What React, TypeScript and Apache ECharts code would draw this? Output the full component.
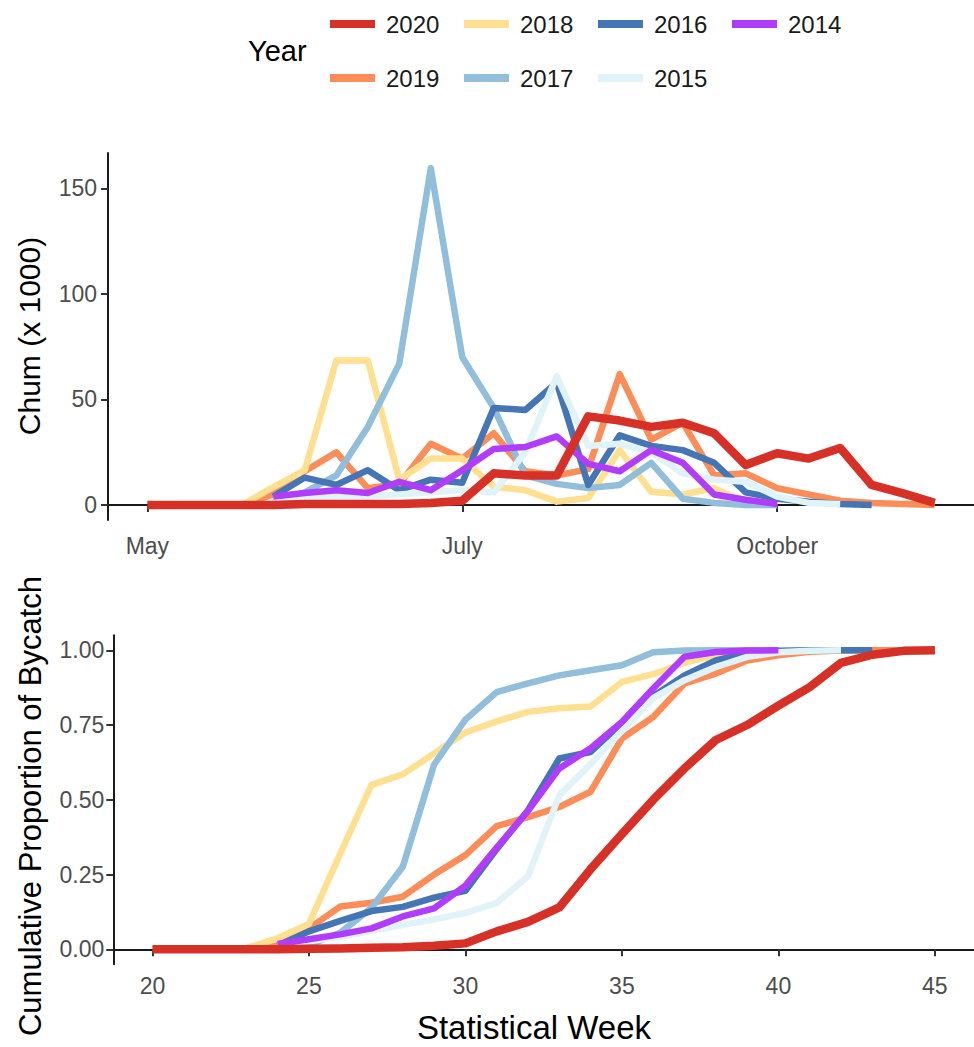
import React, { useEffect, useRef } from "react";
import * as echarts from "echarts";

// ---------- data ----------
const weeks = [20, 21, 22, 23, 24, 25, 26, 27, 28, 29, 30, 31, 32, 33, 34, 35, 36, 37, 38, 39, 40, 41, 42, 43, 44, 45];
const monthTicks = [20, 30, 40];
const monthLabels = ["May", "July", "October"];
const weekTicks = [20, 25, 30, 35, 40, 45];
const chumTicks = [0, 50, 100, 150];
const propTicks = [0, 0.25, 0.5, 0.75, 1];

const legendRow1 = ["2020", "2018", "2016", "2014"];
const legendRow2 = ["2019", "2017", "2015"];
// drawing order (last on top)
const drawOrder = ["2019", "2018", "2017", "2016", "2015", "2014", "2020"];

const yearColors: Record<string, string> = {
  "2020": "#d73027",
  "2019": "#fc8d59",
  "2018": "#fee090",
  "2017": "#91bfdb",
  "2016": "#4575b4",
  "2015": "#e0f3f8",
  "2014": "#b23cfb",
};

// weekly chum bycatch (x 1000), aligned to weeks 20..45
const chum2020 = [0, 0, 0, 0, 0, 0.5, 0.5, 0.5, 0.5, 1, 2, 15, 14, 14, 42, 40, 37, 39, 34, 19, 24.5, 22, 27, 9.5, 5.5, 1];
const chum2019 = [null, null, null, 0, 5, 16, 25, 8, 10, 29, 22, 34, 16, 14, 17, 62, 31, 39, 14, 15, 8, 5, 2, 1, 0.5, 0];
const chum2018 = [null, null, null, 0, 8.5, 16.5, 68.5, 68.5, 12, 22, 22, 8.7, 7, 1.6, 3.3, 26, 6.3, 5, 8, 1, 0, null, null, null, null, null];
const chum2017 = [null, null, null, null, 1, 6, 14, 37, 67, 159.5, 70, 46, 14, 10, 8, 9.5, 20, 3, 1, 0, 0, null, null, null, null, null];
const chum2016 = [null, null, null, null, 4, 13, 9.5, 16.5, 7, 12, 10.5, 46, 45, 58, 9.5, 33, 28, 26, 20, 6, 3, 1.5, 0.5, 0, null, null];
const chum2015 = [null, null, null, null, 1, 3, 4, 4, 5, 6, 7, 6, 25, 61, 28, 29, 25, 15, 12, 11, 4, 1, 0.5, null, null, null];
const chum2014 = [null, null, null, null, 4, 5.7, 7, 5.7, 11, 7, 16.5, 26.5, 27.5, 32.5, 19.5, 16, 26, 20, 5, 2.5, 0.5, null, null, null, null, null];

// cumulative proportion of bycatch, aligned to weeks 20..45
const cum2020 = [0, 0, 0, 0, 0, 0.002, 0.003, 0.005, 0.007, 0.012, 0.02, 0.06, 0.092, 0.14, 0.268, 0.385, 0.5, 0.605, 0.7, 0.75, 0.815, 0.877, 0.958, 0.985, 0.998, 1];
const cum2019 = [null, null, null, 0, 0.013, 0.07, 0.143, 0.156, 0.176, 0.25, 0.315, 0.412, 0.442, 0.476, 0.527, 0.705, 0.777, 0.889, 0.922, 0.966, 0.983, 0.995, 0.999, 1, 1, 1];
const cum2018 = [null, null, null, 0.004, 0.037, 0.085, 0.32, 0.55, 0.585, 0.655, 0.725, 0.762, 0.794, 0.806, 0.812, 0.894, 0.92, 0.958, 0.985, 0.997, 1, null, null, null, null, null];
const cum2017 = [null, null, null, null, 0.003, 0.015, 0.055, 0.139, 0.276, 0.618, 0.768, 0.86, 0.889, 0.916, 0.933, 0.95, 0.993, 0.999, 1, 1, 1, null, null, null, null, null];
const cum2016 = [null, null, null, null, 0.012, 0.06, 0.095, 0.128, 0.142, 0.173, 0.196, 0.335, 0.465, 0.638, 0.66, 0.758, 0.846, 0.916, 0.966, 0.99, 0.998, 1, 1, 1, null, null];
const cum2015 = [null, null, null, null, 0.015, 0.027, 0.042, 0.062, 0.082, 0.1, 0.122, 0.155, 0.245, 0.515, 0.62, 0.73, 0.84, 0.9, 0.944, 0.978, 0.993, 0.998, 1, null, null, null];
const cum2014 = [null, null, null, null, 0.018, 0.034, 0.05, 0.07, 0.11, 0.137, 0.213, 0.34, 0.463, 0.605, 0.672, 0.76, 0.872, 0.978, 0.994, 0.999, 1, null, null, null, null, null];

const chumByYear: Record<string, (number | null)[]> = {
  "2020": chum2020, "2019": chum2019, "2018": chum2018, "2017": chum2017,
  "2016": chum2016, "2015": chum2015, "2014": chum2014,
};
const cumByYear: Record<string, (number | null)[]> = {
  "2020": cum2020, "2019": cum2019, "2018": cum2018, "2017": cum2017,
  "2016": cum2016, "2015": cum2015, "2014": cum2014,
};

// ---------- styling ----------
const FONT = "'Liberation Sans', Arial, Helvetica, sans-serif";
const axisLine = { show: true, lineStyle: { color: "#1a1a1a", width: 2 } };
const axisTick = (vals: number[]) => ({
  show: true,
  length: 7,
  customValues: vals,
  lineStyle: { color: "#333333", width: 2 },
});
const labelBase = { color: "#4d4d4d", fontSize: 23, fontFamily: FONT };

function toPairs(arr: (number | null)[]) {
  const out: [number, number][] = [];
  weeks.forEach((w, i) => {
    const v = arr[i];
    if (v !== null && v !== undefined) out.push([w, v]);
  });
  return out;
}

function buildOption() {
  const series: any[] = [];
  drawOrder.forEach((yr) => {
    const isRed = yr === "2020";
    const ls = { width: isRed ? 8.5 : 6.5, color: yearColors[yr], join: "round", cap: "butt" };
    series.push({
      name: yr, type: "line", xAxisIndex: 0, yAxisIndex: 0,
      data: toPairs(chumByYear[yr]), showSymbol: false, symbol: "none",
      lineStyle: ls, itemStyle: { color: yearColors[yr] }, silent: true,
    });
    series.push({
      name: yr, type: "line", xAxisIndex: 1, yAxisIndex: 1,
      data: toPairs(cumByYear[yr]), showSymbol: false, symbol: "none",
      lineStyle: ls, itemStyle: { color: yearColors[yr] }, silent: true,
    });
  });

  const legendCommon = {
    orient: "horizontal",
    left: 330,
    padding: 0,
    icon: "rect",
    itemWidth: 45,
    itemHeight: 8,
    itemGap: 12,
    selectedMode: false,
    textStyle: { fontSize: 24, fontFamily: FONT, color: "#1a1a1a", width: 66, lineHeight: 28, padding: [0, 0, 0, 6] },
  };

  return {
    animation: false,
    backgroundColor: "#ffffff",
    legend: [
      { ...legendCommon, top: 10, data: legendRow1 },
      { ...legendCommon, top: 64, data: legendRow2 },
    ],
    grid: [
      { left: 108, top: 153, width: 871, height: 367 },
      { left: 113.3, top: 635.3, width: 868, height: 329 },
    ],
    xAxis: [
      {
        gridIndex: 0, type: "value", min: 18.75, max: 46.25,
        axisLine, axisTick: axisTick(monthTicks), splitLine: { show: false },
        axisLabel: {
          ...labelBase, margin: 14, customValues: monthTicks,
          formatter: (v: number) => monthLabels[monthTicks.indexOf(v)] ?? "",
        },
      },
      {
        gridIndex: 1, type: "value", min: 18.75, max: 46.25,
        axisLine, axisTick: axisTick(weekTicks), splitLine: { show: false },
        axisLabel: { ...labelBase, margin: 10, customValues: weekTicks, formatter: (v: number) => String(v) },
      },
    ],
    yAxis: [
      {
        gridIndex: 0, type: "value", min: -7.1, max: 166.75,
        axisLine, axisTick: axisTick(chumTicks), splitLine: { show: false },
        axisLabel: { ...labelBase, margin: 11, customValues: chumTicks, formatter: (v: number) => String(v) },
      },
      {
        gridIndex: 1, type: "value", min: -0.05, max: 1.05,
        axisLine, axisTick: axisTick(propTicks), splitLine: { show: false },
        axisLabel: { ...labelBase, margin: 9, customValues: propTicks, formatter: (v: number) => v.toFixed(2) },
      },
    ],
    graphic: [
      {
        type: "text", x: 248, y: 51,
        style: { text: "Year", fontSize: 29, fontFamily: FONT, fill: "#000000", textAlign: "left", textVerticalAlign: "middle" },
      },
      {
        type: "text", x: 29, y: 336, rotation: Math.PI / 2,
        style: { text: "Chum (x 1000)", fontSize: 30, fontFamily: FONT, fill: "#000000", textAlign: "center", textVerticalAlign: "middle" },
      },
      {
        type: "text", x: 30, y: 806, rotation: Math.PI / 2,
        style: { text: "Cumulative Proportion of Bycatch", fontSize: 31, fontFamily: FONT, fill: "#000000", textAlign: "center", textVerticalAlign: "middle" },
      },
      {
        type: "text", x: 534, y: 1027,
        style: { text: "Statistical Week", fontSize: 33, fontFamily: FONT, fill: "#000000", textAlign: "center", textVerticalAlign: "middle" },
      },
    ],
    series,
  };
}

export default function App() {
  const ref = useRef<HTMLDivElement>(null);
  useEffect(() => {
    if (!ref.current) return;
    const chart = echarts.init(ref.current, null, { renderer: "svg" });
    chart.setOption(buildOption() as any);
    return () => chart.dispose();
  }, []);
  return (
    <div
      ref={ref}
      style={{ position: "absolute", left: 0, top: 0, width: 974, height: 1047, background: "#fff" }}
    />
  );
}
